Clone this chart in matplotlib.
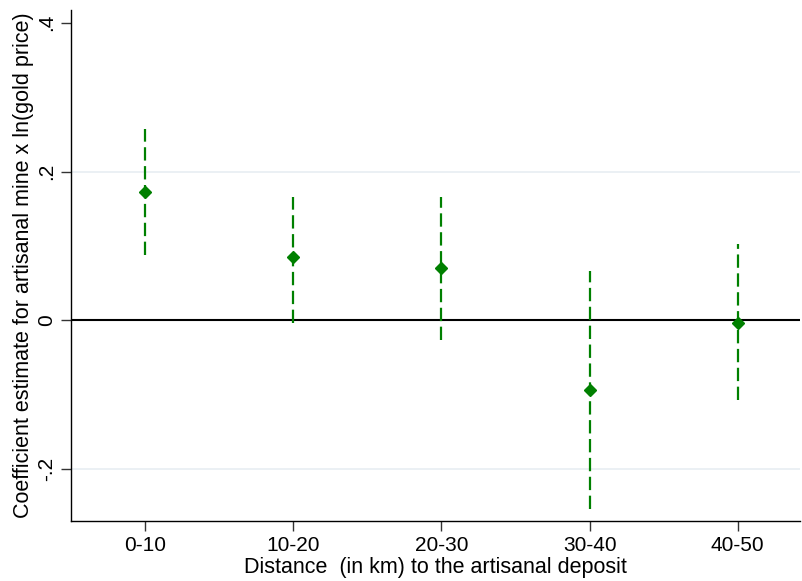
import matplotlib.pyplot as plt

plt.rcParams['font.family'] = ['Liberation Sans', 'DejaVu Sans']

# data
categories = ["0-10", "10-20", "20-30", "30-40", "40-50"]
coef = [0.172, 0.085, 0.070, -0.094, -0.003]
ci_low = [0.088, -0.004, -0.026, -0.254, -0.107]
ci_high = [0.257, 0.166, 0.166, 0.066, 0.102]

green = "#008000"
xpos = list(range(1, len(categories) + 1))

fig = plt.figure(figsize=(8.02, 5.81), dpi=100)
ax = fig.add_axes([0.0885, 0.1035, 0.909, 0.879])

# grid lines and zero line
for g in [-0.2, 0.2]:
    ax.axhline(g, color="#e8eef2", lw=1.2, zorder=0)
ax.axhline(0, color="black", lw=1.5, zorder=1)

# confidence intervals
ax.vlines(xpos, ci_low, ci_high, colors=green, linestyles=(0, (6, 2.5)), lw=1.6, zorder=2)
# point estimates
ax.plot(xpos, coef, linestyle="none", marker="D", color=green, markersize=6.5, zorder=3)

ax.set_xlim(0.5, 5.42)
ax.set_ylim(-0.2696, 0.417)
ax.set_xticks(xpos)
ax.set_xticklabels(categories)
ax.set_yticks([-0.2, 0, 0.2, 0.4])
ax.set_yticklabels(["-.2", "0", ".2", ".4"], rotation=90, va="center")

ax.spines["top"].set_visible(False)
ax.spines["right"].set_visible(False)
for s in ["left", "bottom"]:
    ax.spines[s].set_color("black")
    ax.spines[s].set_linewidth(1.0)

ax.tick_params(axis="both", labelsize=15, length=7, width=1.0, color="#333333")
ax.tick_params(axis="x", pad=4)
ax.tick_params(axis="y", pad=4)

ax.set_xlabel("Distance  (in km) to the artisanal deposit", fontsize=15.5, labelpad=1)
ax.set_ylabel("Coefficient estimate for artisanal mine x ln(gold price)", fontsize=15.5, labelpad=2)

fig.savefig("out.png", dpi=100)
